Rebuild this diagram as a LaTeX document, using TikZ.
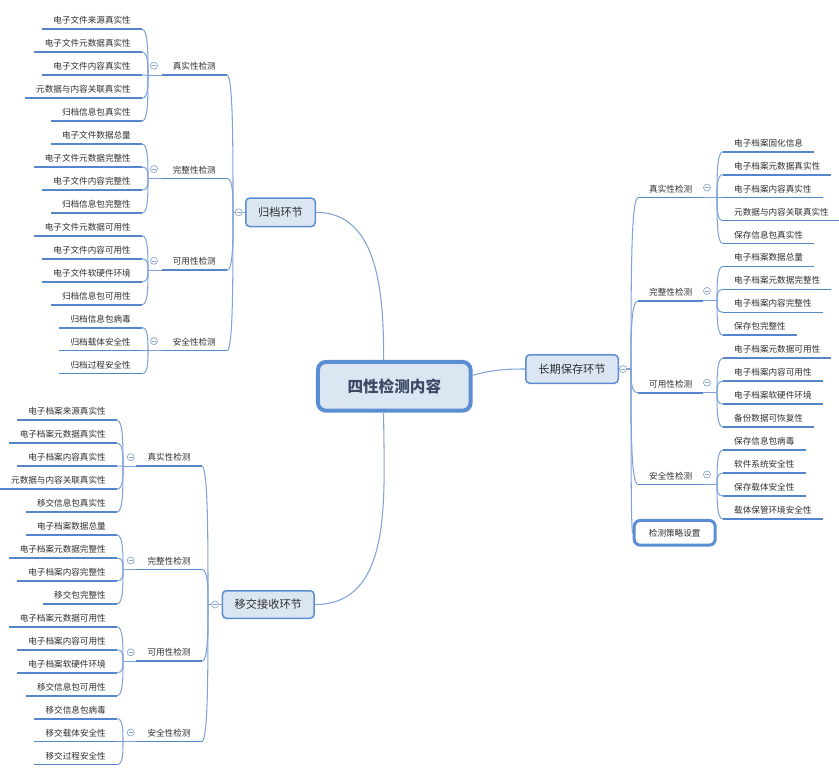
\documentclass[tikz,border=0pt]{standalone}
\usepackage{fontspec}
\newfontfamily\cjk{Noto Sans CJK SC}
\usetikzlibrary{calc}
\definecolor{bord}{HTML}{5B8DD3}
\definecolor{boxfill}{HTML}{DCE6F3}
\definecolor{ulc}{HTML}{5585CA}
\definecolor{crv}{HTML}{7FA2D8}
\definecolor{txt}{HTML}{2E2E2E}
\definecolor{roottxt}{HTML}{3D4A66}
\definecolor{togc}{HTML}{8DA6CC}
\tikzset{
  leaf/.style={font=\cjk\fontsize{8.6}{10}\selectfont, text=txt, inner xsep=11pt, inner ysep=3.5pt, text height=6.9pt, text depth=1.8pt},
  ul/.style={draw=ulc, line width=1.7pt},
  crvline/.style={draw=crv, line width=1.05pt},
  brace/.style={to path={.. controls ($(\tikztostart)!0.5!(\tikztostart|-\tikztotarget)$) and (\tikztostart|-\tikztotarget) .. (\tikztotarget)}},
  lvone/.style={draw=bord, fill=boxfill, line width=1.5pt, rounded corners=4pt, font=\cjk\fontsize{11.2}{13}\selectfont, text=txt, inner xsep=0pt},
  rootbox/.style={draw=bord, fill=boxfill, line width=4pt, rounded corners=8pt, minimum width=152.7pt, minimum height=48.7pt, font=\cjk\fontsize{15.6}{18}\selectfont\bfseries, text=roottxt},
  stratbox/.style={draw=bord, fill=white, line width=3pt, rounded corners=6pt, minimum width=81pt, minimum height=24.7pt, font=\cjk\fontsize{8.6}{10}\selectfont, text=txt, inner xsep=0pt},
  tog/.style={circle, draw=togc, fill=white, line width=0.7pt, minimum size=7pt, inner sep=0pt,
    path picture={\draw[togc, line width=0.6pt] ([xshift=1.7pt]path picture bounding box.west) -- ([xshift=-1.7pt]path picture bounding box.east);}}
}
\newcommand\leavesL[4]{%
  \foreach \t [count=\i from 0] in {#4} {
    \node[leaf, anchor=south east] (#1-\i) at (#2,{#3+22.95*\i}) {\t};
    \draw[crvline] (J#1) to[brace] (#1-\i.south east);
    \draw[ul] (#1-\i.south west) -- (#1-\i.south east);
  }}
\newcommand\leavesR[4]{%
  \foreach \t [count=\i from 0] in {#4} {
    \node[leaf, anchor=south west] (#1-\i) at (#2,{#3+22.95*\i}) {\t};
    \draw[crvline] (J#1) to[brace] (#1-\i.south west);
    \draw[ul] (#1-\i.south west) -- (#1-\i.south east);
  }}
\begin{document}
\begin{tikzpicture}[x=1pt,y=-1pt]
\useasboundingbox (0,0) rectangle (839,780);

% root and first level
\node[rootbox] (R) at (394.3,386.3) {四性检测内容};
\node[lvone, minimum width=69.5pt, minimum height=28.5pt] (G) at (280.5,212.3) {归档环节};
\node[lvone, minimum width=92.5pt, minimum height=28.5pt] (L) at (572,369) {长期保存环节};
\node[lvone, minimum width=91.8pt, minimum height=27.5pt] (Y) at (268.3,604.5) {移交接收环节};
\node[stratbox] (S) at (674.7,532.8) {检测策略设置};

\draw[crvline] (R.112) to[out=90,in=0] (G.east);
\draw[crvline] (R.248) to[out=-90,in=0] (Y.east);
\draw[crvline] (R.8) to[out=15,in=180] (L.west);

% junctions of first level
\coordinate (JG) at (233,212.3);
\coordinate (JL) at (631,369);
\coordinate (JY) at (208,604.5);
\draw[crvline] (G.west) -- (JG);
\draw[crvline] (L.east) -- (JL);
\draw[crvline] (Y.west) -- (JY);

% second level: 归档环节
\node[leaf, anchor=south east] (G1) at (227,75.2) {真实性检测};
\node[leaf, anchor=south east] (G2) at (227,178.5) {完整性检测};
\node[leaf, anchor=south east] (G3) at (227,270.3) {可用性检测};
\node[leaf, anchor=south east] (G4) at (227,350.6) {安全性检测};
\foreach \n in {G1,G2,G3,G4}{
  \draw[crvline] (JG) to[brace] (\n.south east);
  \draw[ul] (\n.south west) -- (\n.south east);
}
% second level: 移交接收环节
\node[leaf, anchor=south east] (Y1) at (201.7,466.2) {真实性检测};
\node[leaf, anchor=south east] (Y2) at (201.7,569.5) {完整性检测};
\node[leaf, anchor=south east] (Y3) at (201.7,661.3) {可用性检测};
\node[leaf, anchor=south east] (Y4) at (201.7,741.6) {安全性检测};
\foreach \n in {Y1,Y2,Y3,Y4}{
  \draw[crvline] (JY) to[brace] (\n.south east);
  \draw[ul] (\n.south west) -- (\n.south east);
}
% second level: 长期保存环节
\node[leaf, anchor=south west] (L1) at (638,197.6) {真实性检测};
\node[leaf, anchor=south west] (L2) at (638,300.9) {完整性检测};
\node[leaf, anchor=south west] (L3) at (638,392.7) {可用性检测};
\node[leaf, anchor=south west] (L4) at (638,484.5) {安全性检测};
\foreach \n in {L1,L2,L3,L4}{
  \draw[crvline] (JL) to[brace] (\n.south west);
  \draw[ul] (\n.south west) -- (\n.south east);
}
\draw[crvline] (JL) to[brace] (S.west);

% leaf junctions
\coordinate (JG1) at (148,75.2);
\coordinate (JG2) at (148,178.5);
\coordinate (JG3) at (148,270.3);
\coordinate (JG4) at (148,350.6);
\coordinate (JY1) at (123,466.2);
\coordinate (JY2) at (123,569.5);
\coordinate (JY3) at (123,661.3);
\coordinate (JY4) at (123,741.6);
\coordinate (JL1) at (717,197.6);
\coordinate (JL2) at (717,300.9);
\coordinate (JL3) at (717,392.7);
\coordinate (JL4) at (717,484.5);
\foreach \n in {G1,G2,G3,G4,Y1,Y2,Y3,Y4}{ \draw[crvline] (\n.south west) -- (J\n); }
\foreach \n in {L1,L2,L3,L4}{ \draw[crvline] (\n.south east) -- (J\n); }

% leaves
\leavesL{G1}{142}{29.3}{电子文件来源真实性,电子文件元数据真实性,电子文件内容真实性,元数据与内容关联真实性,归档信息包真实性}
\leavesL{G2}{142}{144.05}{电子文件数据总量,电子文件元数据完整性,电子文件内容完整性,归档信息包完整性}
\leavesL{G3}{142}{235.85}{电子文件元数据可用性,电子文件内容可用性,电子文件软硬件环境,归档信息包可用性}
\leavesL{G4}{142}{327.65}{归档信息包病毒,归档载体安全性,归档过程安全性}

\leavesL{Y1}{117}{420.3}{电子档案来源真实性,电子档案元数据真实性,电子档案内容真实性,元数据与内容关联真实性,移交信息包真实性}
\leavesL{Y2}{117}{535.05}{电子档案数据总量,电子档案元数据完整性,电子档案内容完整性,移交包完整性}
\leavesL{Y3}{117}{626.85}{电子档案元数据可用性,电子档案内容可用性,电子档案软硬件环境,移交信息包可用性}
\leavesL{Y4}{117}{718.65}{移交信息包病毒,移交载体安全性,移交过程安全性}

\leavesR{L1}{723}{151.7}{电子档案固化信息,电子档案元数据真实性,电子档案内容真实性,元数据与内容关联真实性,保存信息包真实性}
\leavesR{L2}{723}{266.45}{电子档案数据总量,电子档案元数据完整性,电子档案内容完整性,保存包完整性}
\leavesR{L3}{723}{358.25}{电子档案元数据可用性,电子档案内容可用性,电子档案软硬件环境,备份数据可恢复性}
\leavesR{L4}{723}{450.05}{保存信息包病毒,软件系统安全性,保存载体安全性,载体保管环境安全性}

% collapse toggles
\node[tog] (tG) at (238.7,212.3) {};
\node[tog] (tL) at (623,369) {};
\node[tog] (tY) at (215,604.5) {};
\node[tog] (tG1) at (154,65.7) {};
\node[tog] (tG2) at (154,169) {};
\node[tog] (tG3) at (154,260.8) {};
\node[tog] (tG4) at (154,341.1) {};
\node[tog] (tY1) at (130.7,457.2) {};
\node[tog] (tY2) at (130.7,560.5) {};
\node[tog] (tY3) at (130.7,652.3) {};
\node[tog] (tY4) at (130.7,732.6) {};
\node[tog] (tL1) at (707,187.6) {};
\node[tog] (tL2) at (707,290.9) {};
\node[tog] (tL3) at (707,382.7) {};
\node[tog] (tL4) at (707,474.5) {};
\end{tikzpicture}
\end{document}
